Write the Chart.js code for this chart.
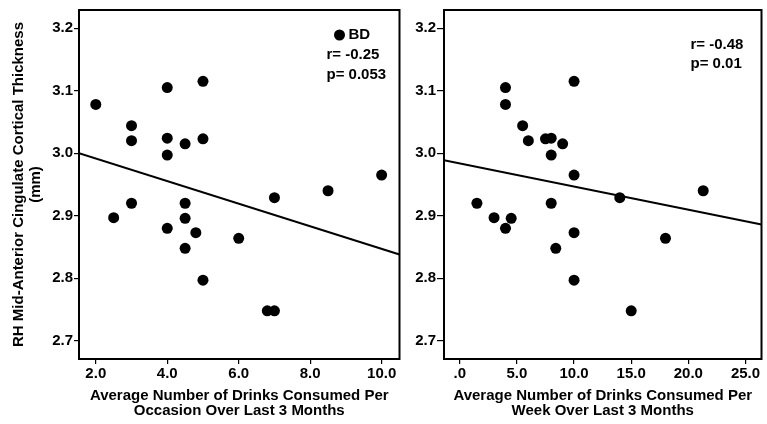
<!DOCTYPE html>
<html>
<head>
<meta charset="utf-8">
<script src="https://cdn.jsdelivr.net/npm/chart.js@4.4.0/dist/chart.umd.min.js"></script>
<style>
  html, body { margin: 0; padding: 0; background: #fff; }
  #wrap { position: relative; width: 767px; height: 424px; overflow: hidden; }
  #left { position: absolute; left: 0; top: 0; }
  #right { position: absolute; left: 405px; top: 0; }
</style>
</head>
<body>
<div id="wrap">
  <canvas id="left" width="405" height="424"></canvas>
  <canvas id="right" width="362" height="424"></canvas>
</div>
<script>
// data
const occasionX = [2.0, 3.0, 3.0, 4.0, 4.0, 4.0, 4.5, 5.0, 5.0, 10.0, 8.5, 7.0, 3.0, 4.5,
                   2.5, 4.0, 4.5, 4.8, 4.5, 6.0, 5.0, 6.8, 7.0];
const occasionY = [3.078, 3.044, 3.020, 3.105, 3.024, 2.997, 3.015, 3.115, 3.023, 2.965, 2.940, 2.929, 2.920, 2.920,
                   2.897, 2.880, 2.896, 2.873, 2.848, 2.864, 2.797, 2.748, 2.748];
const weekX = [4.0, 4.0, 5.5, 6.0, 7.5, 8.0, 8.0, 9.0, 10.0, 10.0, 14.0, 21.3, 1.5, 8.0,
               3.0, 4.5, 4.0, 10.0, 8.4, 18.0, 10.0, 15.0];
const weekY = [3.105, 3.078, 3.044, 3.020, 3.023, 3.024, 2.997, 3.015, 3.115, 2.965, 2.929, 2.940, 2.920, 2.920,
               2.897, 2.896, 2.880, 2.873, 2.848, 2.864, 2.797, 2.748];

// fit lines, end points at the axis limits
const occasionFitX = [1.53, 10.5];
const occasionFitY = [3.0, 2.838];
const weekFitX = [-1.38, 26.4];
const weekFitY = [2.989, 2.886];

const yMin = 2.671, yMax = 3.229;
const yTicks = [2.7, 2.8, 2.9, 3.0, 3.1, 3.2];
const yTickLabels = ['2.7', '2.8', '2.9', '3.0', '3.1', '3.2'];
const occasionTicks = [2, 4, 6, 8, 10];
const occasionTickLabels = ['2.0', '4.0', '6.0', '8.0', '10.0'];
const weekTicks = [0, 5, 10, 15, 20, 25];
const weekTickLabels = ['.0', '5.0', '10.0', '15.0', '20.0', '25.0'];

const FAMILY = '"Liberation Sans", Arial, Helvetica, sans-serif';
const tickFont = { family: FAMILY, size: 15, weight: 'bold' };

const pairs = (xs, ys) => xs.map((x, i) => ({ x, y: ys[i] }));

// box round the plot + the r / p notes
const frame = {
  id: 'frame',
  afterDatasetsDraw(chart, args, opts) {
    const { ctx, chartArea: a } = chart;
    ctx.save();
    ctx.strokeStyle = '#000';
    ctx.lineWidth = 2;
    ctx.strokeRect(a.left, a.top, a.right - a.left, a.bottom - a.top);
    ctx.fillStyle = '#000';
    ctx.font = 'bold 15px ' + FAMILY;
    ctx.textBaseline = 'middle';
    (opts.notes || []).forEach(n => ctx.fillText(n.text, a.right - n.dx, n.y));
    if (opts.key) {
      ctx.beginPath();
      ctx.arc(a.right - opts.key.dx, opts.key.y, 5.5, 0, Math.PI * 2);
      ctx.fill();
      ctx.fillText(opts.key.text, a.right - opts.key.dx + 9, opts.key.y);
    }
    ctx.restore();
  }
};

function makeChart(id, o) {
  return new Chart(document.getElementById(id), {
    type: 'scatter',
    data: {
      datasets: [
        { data: pairs(o.xs, o.ys), backgroundColor: '#000', borderWidth: 0, pointRadius: 5.5, order: 0 },
        { type: 'line', data: pairs(o.fitX, o.fitY), borderColor: '#000', borderWidth: 2,
          pointRadius: 0, fill: false, order: 1 }
      ]
    },
    options: {
      responsive: false,
      animation: false,
      devicePixelRatio: 1,
      layout: { padding: { top: 7, right: o.padRight, left: 0, bottom: 0 } },
      plugins: {
        legend: { display: false },
        tooltip: { enabled: false },
        frame: { notes: o.notes, key: o.key }
      },
      scales: {
        x: {
          type: 'linear', min: o.xMin, max: o.xMax,
          afterBuildTicks: s => { s.ticks = o.xTicks.map(v => ({ value: v })); },
          afterFit: s => { s.height = 65; },
          grid: { display: true, drawOnChartArea: false, drawTicks: true, tickLength: 5, color: '#000', lineWidth: 1.2 },
          border: { display: false },
          ticks: { color: '#000', font: tickFont, padding: 1, maxRotation: 0,
                   callback: (v, i) => o.xLabels[i] },
          title: { display: true, text: o.xTitle, color: '#000',
                   font: { family: FAMILY, size: 15, weight: 'bold', lineHeight: 1.05 },
                   padding: { top: 0, bottom: 5 } }
        },
        y: {
          type: 'linear', min: yMin, max: yMax,
          afterBuildTicks: s => { s.ticks = yTicks.map(v => ({ value: v })); },
          afterFit: s => { s.width = o.yWidth; },
          grid: { display: true, drawOnChartArea: false, drawTicks: true, tickLength: o.yTickLen, color: '#000', lineWidth: 1.2 },
          border: { display: false },
          ticks: { color: '#000', font: tickFont, padding: 1, callback: (v, i) => yTickLabels[i] },
          title: o.yTitle
            ? { display: true, text: o.yTitle, color: '#000',
                font: { family: FAMILY, size: 15, weight: 'bold', lineHeight: 1.1 },
                padding: { top: 11, bottom: 0 } }
            : { display: false }
        }
      }
    },
    plugins: [frame]
  });
}

makeChart('left', {
  xs: occasionX, ys: occasionY, fitX: occasionFitX, fitY: occasionFitY,
  xMin: 1.53, xMax: 10.5, xTicks: occasionTicks, xLabels: occasionTickLabels,
  xTitle: ['Average Number of Drinks Consumed Per', 'Occasion Over Last 3 Months'],
  yTitle: ['RH Mid-Anterior Cingulate Cortical Thickness', '(mm)'],
  yWidth: 79, yTickLen: 5, padRight: 3,
  key: { text: 'BD', dx: 60, y: 35 },
  notes: [{ text: 'r= -0.25', dx: 73, y: 55 }, { text: 'p= 0.053', dx: 73, y: 75 }]
});

makeChart('right', {
  xs: weekX, ys: weekY, fitX: weekFitX, fitY: weekFitY,
  xMin: -1.38, xMax: 26.4, xTicks: weekTicks, xLabels: weekTickLabels,
  xTitle: ['Average Number of Drinks Consumed Per', 'Week Over Last 3 Months'],
  yTitle: null,
  yWidth: 39, yTickLen: 7, padRight: 1,
  notes: [{ text: 'r= -0.48', dx: 71, y: 45 }, { text: 'p= 0.01', dx: 71, y: 64 }]
});
</script>
</body>
</html>
